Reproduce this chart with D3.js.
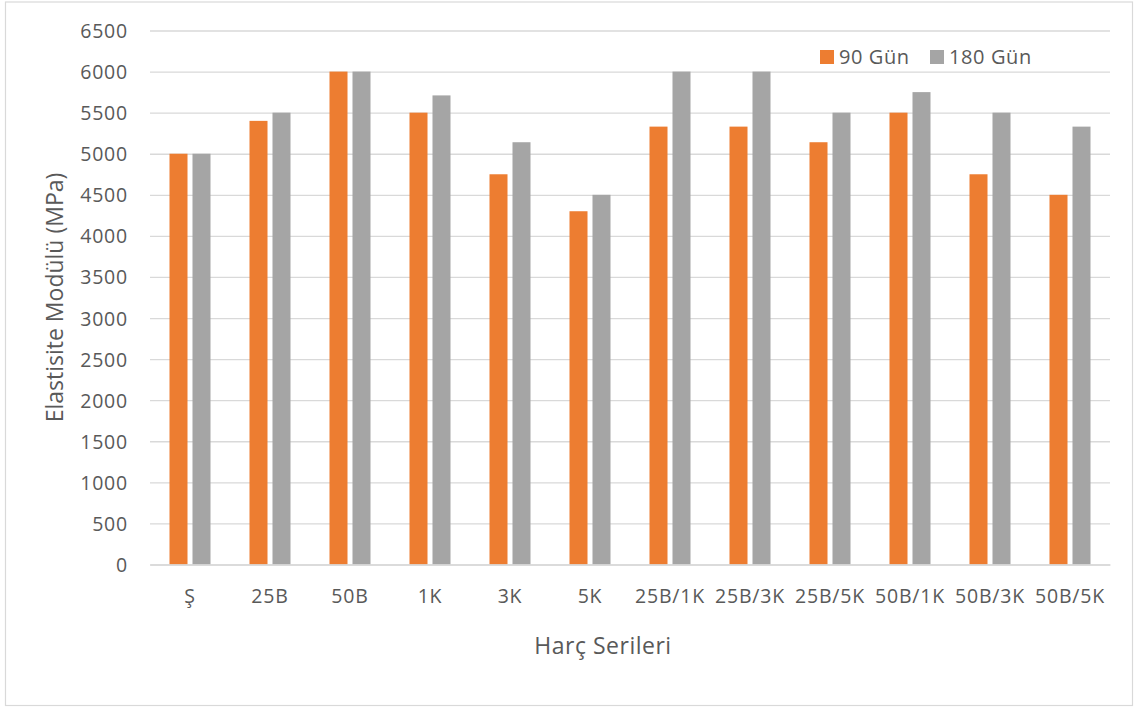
<!DOCTYPE html>
<html>
<head>
<meta charset="utf-8">
<script src="https://cdn.jsdelivr.net/npm/d3@7"></script>
<style>
  html, body { margin: 0; padding: 0; background: #fff; }
  svg { display: block; }
  svg text { font-family: "Open Sans", "Noto Sans", sans-serif; }
</style>
</head>
<body>
<svg id="chart" width="1140" height="709"></svg>
<script>
// Mortar series and elastic modulus (MPa) at two curing ages
const categories = ["Ş", "25B", "50B", "1K", "3K", "5K", "25B/1K", "25B/3K", "25B/5K", "50B/1K", "50B/3K", "50B/5K"];
const seriesNames = ["90 Gün", "180 Gün"];
const values90 = [5000, 5400, 6000, 5500, 4750, 4300, 5330, 5330, 5140, 5500, 4750, 4500];
const values180 = [5000, 5500, 6000, 5710, 5140, 4500, 6000, 6000, 5500, 5750, 5500, 5330];
const yTicks = [0, 500, 1000, 1500, 2000, 2500, 3000, 3500, 4000, 4500, 5000, 5500, 6000, 6500];
const colors = ["#ED7D31", "#A5A5A5"];

const svg = d3.select("#chart");
const textColor = "#595959";
const tickFont = "19.5px";
const tickSpacing = "0.8px";

// outer frame
svg.append("rect")
  .attr("x", 5.5).attr("y", 2)
  .attr("width", 1127).attr("height", 703.5)
  .attr("fill", "#fff").attr("stroke", "#d9d9d9").attr("stroke-width", 1.2);

const plot = { left: 150, right: 1110, top: 30.5, bottom: 564.5 };

const y = d3.scaleLinear().domain([0, 6500]).range([plot.bottom, plot.top]);
const x0 = d3.scaleBand().domain(categories).range([plot.left, plot.right]).padding(0);
const groupInset = 19.5;
const x1 = d3.scaleBand().domain(seriesNames)
  .range([groupInset, x0.bandwidth() - groupInset])
  .paddingInner(0.217).paddingOuter(0);

// horizontal gridlines and y tick labels
const yAxis = d3.axisLeft(y).tickValues(yTicks).tickFormat(d3.format("d"))
  .tickSize(-(plot.right - plot.left)).tickPadding(22);
const gy = svg.append("g").attr("transform", `translate(${plot.left},0)`).call(yAxis);
gy.attr("font-family", null).attr("font-size", null);
gy.select(".domain").remove();
gy.selectAll(".tick line").attr("stroke", "#d9d9d9").attr("stroke-width", 1.3);
gy.selectAll(".tick text").attr("fill", textColor)
  .style("font-size", tickFont).style("letter-spacing", tickSpacing).attr("dy", "0.36em");

// bars
const rows = categories.map((c, i) => ({ cat: c, vals: [values90[i], values180[i]] }));
const groups = svg.append("g").selectAll("g").data(rows).join("g")
  .attr("transform", d => `translate(${x0(d.cat)},0)`);
groups.selectAll("rect")
  .data(d => d.vals.map((v, j) => ({ key: seriesNames[j], v, j })))
  .join("rect")
  .attr("x", d => x1(d.key))
  .attr("width", x1.bandwidth())
  .attr("y", d => y(d.v))
  .attr("height", d => y(0) - y(d.v))
  .attr("fill", d => colors[d.j]);

// x axis baseline and category labels
const xAxis = d3.axisBottom(x0).tickSize(0).tickPadding(25);
const gx = svg.append("g").attr("transform", `translate(0,${plot.bottom})`).call(xAxis);
gx.attr("font-family", null).attr("font-size", null);
gx.select(".domain").attr("stroke", "#d9d9d9").attr("stroke-width", 1.3);
gx.selectAll(".tick text").attr("fill", textColor)
  .style("font-size", tickFont).style("letter-spacing", tickSpacing);

// axis titles
svg.append("text")
  .attr("x", 603).attr("y", 654)
  .attr("text-anchor", "middle").attr("fill", textColor)
  .style("font-size", "23px").style("letter-spacing", "0.5px").text("Harç Serileri");
svg.append("text")
  .attr("transform", `translate(63,${(plot.top + plot.bottom) / 2}) rotate(-90)`)
  .attr("text-anchor", "middle").attr("fill", textColor)
  .style("font-size", "23px").text("Elastisite Modülü (MPa)");

// legend
const legendX = [820, 930];
const legend = svg.append("g").selectAll("g").data(seriesNames).join("g")
  .attr("transform", (d, i) => `translate(${legendX[i]},50)`);
legend.append("rect").attr("width", 14).attr("height", 14).attr("fill", (d, i) => colors[i]);
legend.append("text").attr("x", 19).attr("y", 14)
  .attr("fill", textColor).style("font-size", "20px").style("letter-spacing", "0.6px").text(d => d);
</script>
</body>
</html>
